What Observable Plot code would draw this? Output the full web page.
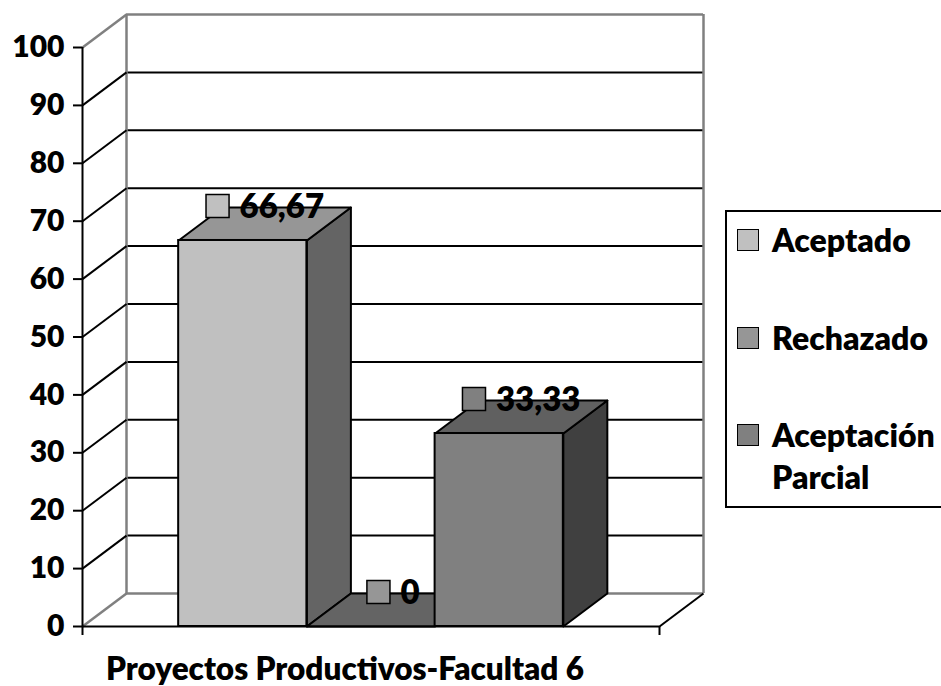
<!DOCTYPE html>
<html>
<head>
<meta charset="utf-8">
<script src="https://cdn.jsdelivr.net/npm/d3@7"></script>
<script src="https://cdn.jsdelivr.net/npm/@observablehq/plot@0.6"></script>
<style>
  html, body { margin: 0; padding: 0; background: #fff; overflow: hidden; }
  #wrap { position: relative; width: 941px; height: 686px; overflow: hidden; font-family: Lato, "Open Sans", sans-serif; }
  #legend { position: absolute; left: 725px; top: 210px; width: 260px; height: 298px; border: 2px solid #000; box-sizing: border-box; font-weight: 800; font-size: 32px; color: #000; }
  .entry { position: absolute; left: 0; }
  .sw { position: absolute; left: 10px; width: 20px; height: 20px; border: 1.5px solid #000; }
  .lab { position: absolute; left: 45px; width: 200px; line-height: 42px; white-space: normal; }
</style>
</head>
<body>
<div id="wrap"></div>
<script>
// ---- data ----
const categories = ["Aceptado", "Rechazado", "Aceptación Parcial"];
const values = [66.67, 0, 33.33];
const frontColors = ["#c0c0c0", "#969696", "#808080"];
const topColors = ["#969696", "#646464", "#606060"];
const sideColors = ["#646464", "#4e4e4e", "#404040"];
const yTicks = [0, 10, 20, 30, 40, 50, 60, 70, 80, 90, 100];
const groupTitle = "Proyectos Productivos-Facultad 6";

// ---- layout ----
const W = 941, H = 686;
const mL = 82, mR = 282, mT = 47, mB = 60;
const xMax = 4.5;             // floor length in bar widths
const gap = 0.75;             // space before first bar
const depthPx = [44, 33];     // 3D depth offset in pixels
const xk = (W - mL - mR) / xMax;
const yk = (H - mT - mB) / 100;
const DX = depthPx[0] / xk;   // depth in x units
const DY = depthPx[1] / yk;   // depth in y units
const tickFont = 30, labelFont = 33, titleFont = 31.5;
const heavy = 800;
const fmt = v => String(v).replace(".", ",");

const bars = categories.map((c, i) => ({
  cat: c, v: values[i], x1: gap + i, x2: gap + i + 1,
  front: frontColors[i], top: topColors[i], side: sideColors[i]
}));

const marks = [];
const grid = yTicks.filter(t => t > 0 && t < 100);
const edge = [0, 100];

// back wall
marks.push(Plot.ruleY(grid, {y: d => d + DY, x1: DX, x2: xMax + DX, stroke: "#000", strokeWidth: 2}));
marks.push(Plot.ruleY(edge, {y: d => d + DY, x1: DX, x2: xMax + DX, stroke: "#808080", strokeWidth: 2.5}));
marks.push(Plot.ruleX([DX, xMax + DX], {y1: DY, y2: 100 + DY, stroke: "#808080", strokeWidth: 2.5}));
// side wall
marks.push(Plot.link(grid, {x1: 0, y1: d => d, x2: DX, y2: d => d + DY, stroke: "#000", strokeWidth: 2}));
marks.push(Plot.link(edge, {x1: 0, y1: d => d, x2: DX, y2: d => d + DY, stroke: "#808080", strokeWidth: 2.5}));
// floor right edge
marks.push(Plot.link([0], {x1: xMax, y1: 0, x2: xMax + DX, y2: DY, stroke: "#000", strokeWidth: 2}));

// bars
for (const b of bars) {
  const sidePoly = [[b.x2, 0], [b.x2 + DX, DY], [b.x2 + DX, b.v + DY], [b.x2, b.v]];
  const topPoly = [[b.x1, b.v], [b.x2, b.v], [b.x2 + DX, b.v + DY], [b.x1 + DX, b.v + DY]];
  if (b.v > 0) {
    marks.push(Plot.line(sidePoly, {x: d => d[0], y: d => d[1], curve: "linear-closed", fill: b.side, stroke: "#000", strokeWidth: 2, strokeLinejoin: "round"}));
  }
  marks.push(Plot.line(topPoly, {x: d => d[0], y: d => d[1], curve: "linear-closed", fill: b.top, stroke: "#000", strokeWidth: 2, strokeLinejoin: "round"}));
  if (b.v > 0) {
    marks.push(Plot.rect([b], {x1: "x1", x2: "x2", y1: 0, y2: "v", fill: b.front, stroke: "#000", strokeWidth: 2}));
  }
}

// floor front line and axis line
marks.push(Plot.ruleY([0], {x1: 0, x2: xMax, stroke: "#000", strokeWidth: 2}));
marks.push(Plot.ruleX([0], {y1: 0, y2: 100, stroke: "#000", strokeWidth: 2}));
marks.push(Plot.axisY({ticks: yTicks, tickSize: 9, tickPadding: 9, fontSize: tickFont, fontWeight: heavy, strokeWidth: 2, label: null, tickFormat: d => String(d)}));
marks.push(Plot.axisX({ticks: [0, xMax], tickSize: 9, tickFormat: () => "", strokeWidth: 2, label: null}));

// data labels (marker + value)
const ctx = document.createElement("canvas").getContext("2d");
ctx.font = `${heavy} ${labelFont}px Lato`;
for (const b of bars) {
  const txt = fmt(b.v);
  const tw = ctx.measureText(txt).width;
  const w = 34 + tw;
  const cx = (b.x1 + b.x2) / 2 + DX / 2;
  const cy = b.v + DY / 2;
  marks.push(Plot.dot([b], {x: () => cx, y: () => cy, symbol: "square", r: 13, fill: b.front, stroke: "#000", strokeWidth: 1.5, dx: -w / 2 + 12, dy: -18}));
  marks.push(Plot.text([txt], {x: () => cx, y: () => cy, text: d => d, textAnchor: "start", dx: -w / 2 + 34, dy: -17, fontSize: labelFont, fontWeight: heavy, fill: "#000"}));
}

// category title
marks.push(Plot.text([groupTitle], {frameAnchor: "bottom", lineAnchor: "middle", text: d => d, dx: -26, dy: 43, fontSize: titleFont, fontWeight: heavy, fill: "#000"}));

const chart = Plot.plot({
  width: W, height: H,
  marginLeft: mL, marginRight: mR, marginTop: mT, marginBottom: mB,
  x: {domain: [0, xMax], axis: null},
  y: {domain: [0, 100], axis: null},
  style: {fontFamily: "Lato, 'Open Sans', sans-serif", color: "#000", background: "#fff", overflow: "visible"},
  marks
});
const wrap = document.getElementById("wrap");
wrap.appendChild(chart);

// legend
const legend = document.createElement("div");
legend.id = "legend";
const rowCenters = [28, 126, 223];
categories.forEach((c, i) => {
  const e = document.createElement("div");
  e.className = "entry";
  e.style.top = (rowCenters[i] - 21) + "px";
  const sw = document.createElement("div");
  sw.className = "sw";
  sw.style.top = "10px";
  sw.style.background = frontColors[i];
  const lab = document.createElement("div");
  lab.className = "lab";
  lab.textContent = c;
  e.appendChild(sw); e.appendChild(lab);
  legend.appendChild(e);
});
wrap.appendChild(legend);
</script>
</body>
</html>
